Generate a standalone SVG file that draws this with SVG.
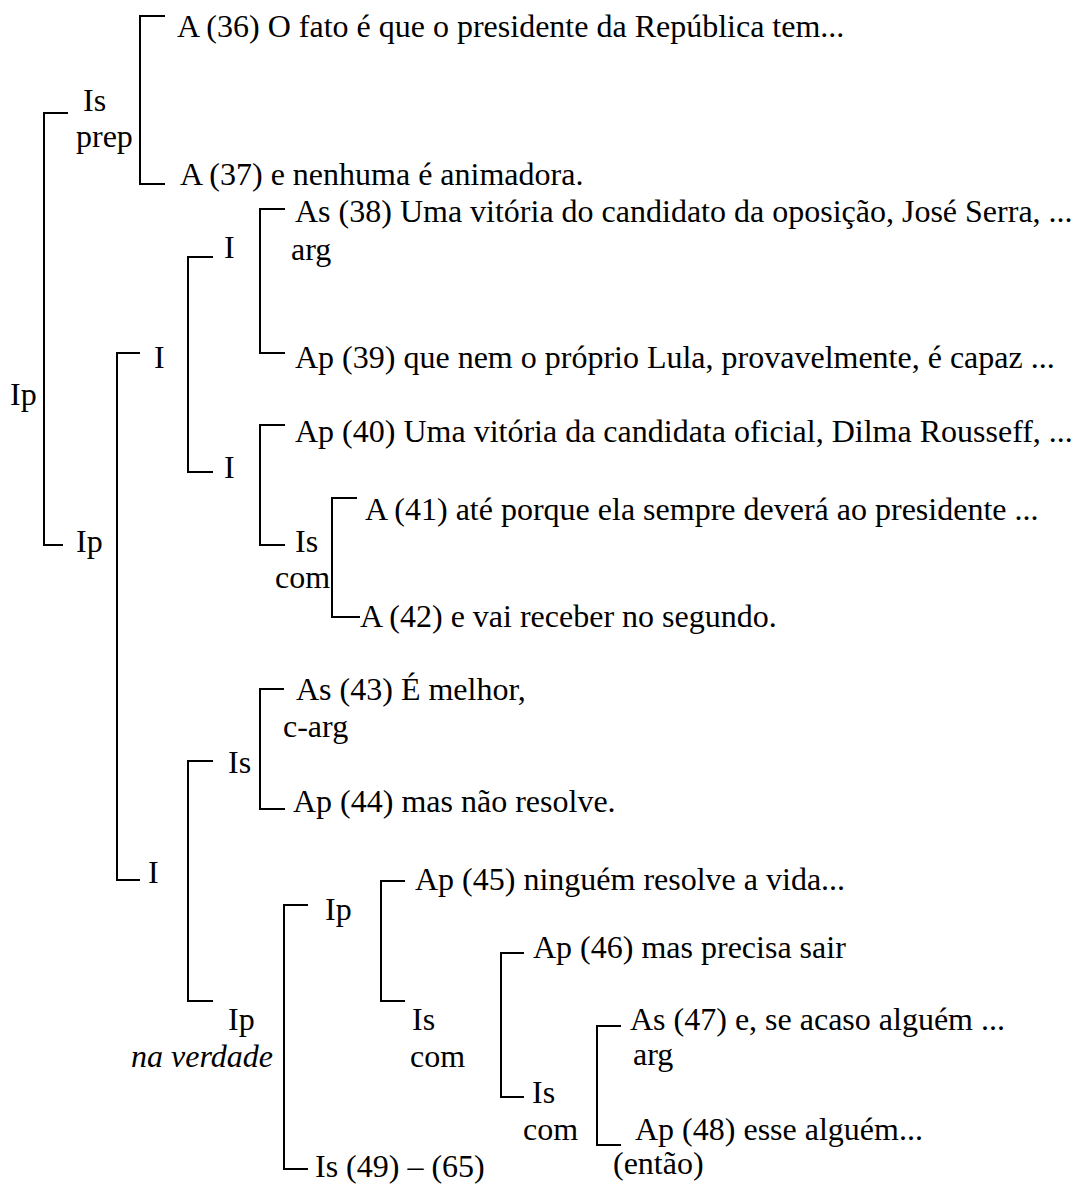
<svg xmlns="http://www.w3.org/2000/svg" width="1075" height="1184" viewBox="0 0 1075 1184">
<style>
text{font-family:"Liberation Serif","Times New Roman",serif;font-size:32px;fill:#000}
.it{font-style:italic}
.br{fill:none;stroke:#000;stroke-width:2}
</style>
<rect width="1075" height="1184" fill="#fff"/>
<g id="connectors">
<path class="br" d="M68,113 H44 V545 H63"/>
<path class="br" d="M165,16 H140 V184 H165"/>
<path class="br" d="M140,353 H117 V880 H140"/>
<path class="br" d="M213,257 H188 V472 H213"/>
<path class="br" d="M285,209 H260 V353 H285"/>
<path class="br" d="M285,425 H260 V545 H285"/>
<path class="br" d="M357,498 H332 V617 H360"/>
<path class="br" d="M213,761 H188 V1001 H213"/>
<path class="br" d="M284,689 H260 V809 H285"/>
<path class="br" d="M308,905 H284 V1169 H308"/>
<path class="br" d="M405,881 H381 V1001 H405"/>
<path class="br" d="M524,953 H501 V1097 H524"/>
<path class="br" d="M621,1026 H597 V1145 H621"/>
</g>
<g id="n-root"><text x="10" y="405">Ip</text></g>
<g id="n-is-prep"><text x="83" y="111">Is</text><text x="76" y="147">prep</text></g>
<g id="n-36"><text x="177" y="37">A (36) O fato é que o presidente da República tem...</text></g>
<g id="n-37"><text x="180" y="185">A (37) e nenhuma é animadora.</text></g>
<g id="n-ip2"><text x="76" y="552">Ip</text></g>
<g id="n-i1"><text x="154" y="368">I</text></g>
<g id="n-i1a"><text x="224" y="258">I</text></g>
<g id="n-38"><text x="295" y="222">As (38) Uma vitória do candidato da oposição, José Serra, ...</text><text x="291" y="260">arg</text></g>
<g id="n-39"><text x="295" y="368">Ap (39) que nem o próprio Lula, provavelmente, é capaz ...</text></g>
<g id="n-i1b"><text x="224" y="478">I</text></g>
<g id="n-40"><text x="295" y="442">Ap (40) Uma vitória da candidata oficial, Dilma Rousseff, ...</text></g>
<g id="n-is-com1"><text x="295" y="552">Is</text><text x="275" y="588">com</text></g>
<g id="n-41"><text x="365" y="520">A (41) até porque ela sempre deverá ao presidente ...</text></g>
<g id="n-42"><text x="360" y="627">A (42) e vai receber no segundo.</text></g>
<g id="n-i2"><text x="148" y="883">I</text></g>
<g id="n-is2"><text x="228" y="773">Is</text></g>
<g id="n-43"><text x="296" y="700">As (43) É melhor,</text><text x="283" y="737">c-arg</text></g>
<g id="n-44"><text x="293" y="812">Ap (44) mas não resolve.</text></g>
<g id="n-ip-nv"><text x="228" y="1030">Ip</text><text class="it" x="131" y="1067">na verdade</text></g>
<g id="n-ip3"><text x="325" y="920">Ip</text></g>
<g id="n-45"><text x="415" y="890">Ap (45) ninguém resolve a vida...</text></g>
<g id="n-is-com2"><text x="412" y="1030">Is</text><text x="410" y="1067">com</text></g>
<g id="n-46"><text x="533" y="958">Ap (46) mas precisa sair</text></g>
<g id="n-is-com3"><text x="532" y="1103">Is</text><text x="523" y="1140">com</text></g>
<g id="n-47"><text x="630" y="1030">As (47) e, se acaso alguém ...</text><text x="633" y="1065">arg</text></g>
<g id="n-48"><text x="635" y="1140">Ap (48) esse alguém...</text><text x="613" y="1174">(então)</text></g>
<g id="n-49"><text x="315" y="1177">Is (49) – (65)</text></g>
</svg>
